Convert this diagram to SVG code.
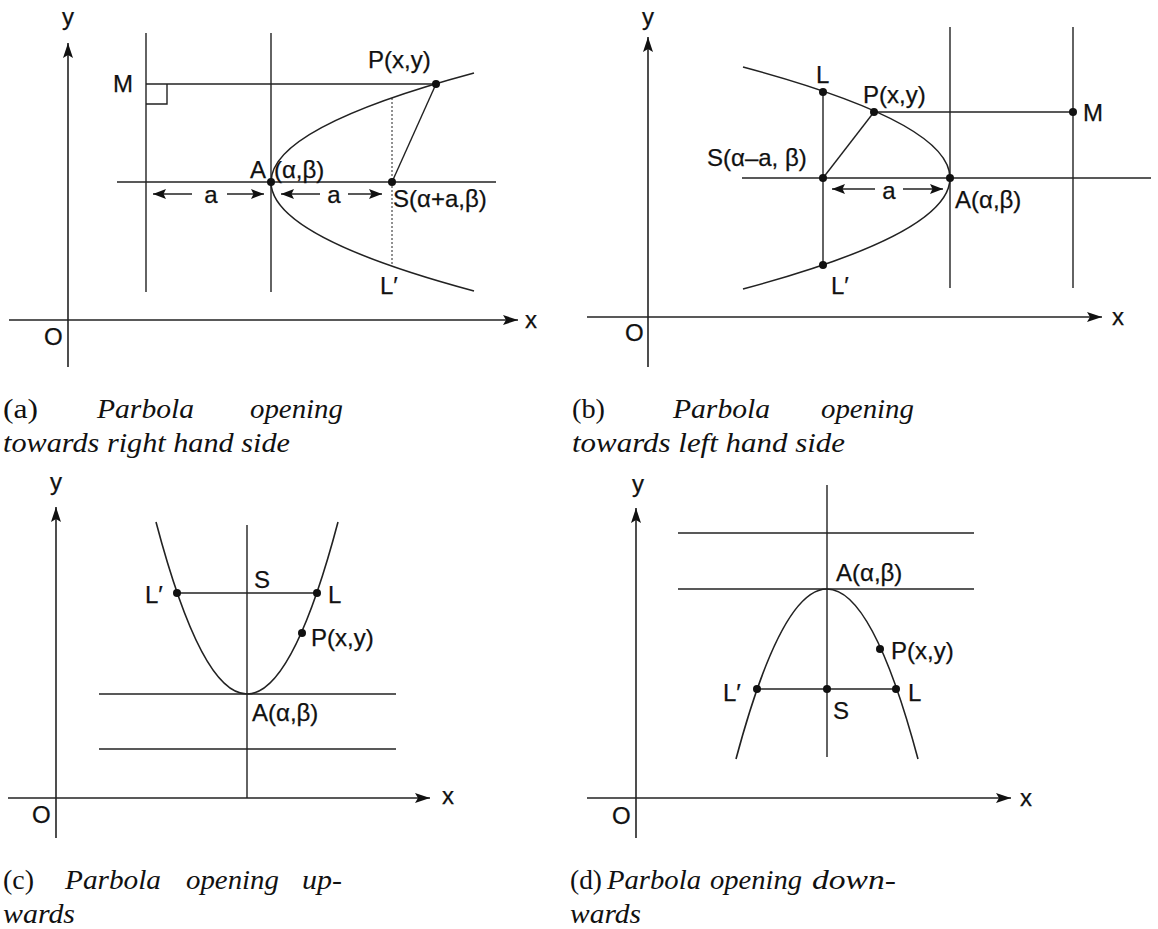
<svg xmlns="http://www.w3.org/2000/svg" width="1158" height="929" viewBox="0 0 1158 929">
<defs>
<style>
.ln{stroke:#222;stroke-width:1.4;fill:none}
.ax{stroke:#222;stroke-width:1.6;fill:none;marker-end:url(#ah)}
.cv{stroke:#222;stroke-width:1.6;fill:none}
.dm{stroke:#222;stroke-width:1.4;fill:none;marker-end:url(#dh)}
.dot{stroke:#222;stroke-width:1;fill:none;stroke-dasharray:2 2}
.pt{fill:#111}
.lb{font-family:"Liberation Sans",Arial,sans-serif;font-size:24px;fill:#111;stroke:#111;stroke-width:0.25}
.cap{font-family:"Liberation Serif","Times New Roman",serif;font-size:27px;font-style:italic;fill:#111}
.up{font-style:normal}
</style>
<marker id="ah" markerUnits="userSpaceOnUse" markerWidth="16" markerHeight="11" refX="15" refY="5" orient="auto"><path d="M0,0 L15,5 L0,10 L3,5 z" fill="#111"/></marker>
<marker id="dh" markerUnits="userSpaceOnUse" markerWidth="14" markerHeight="11" refX="13" refY="5" orient="auto"><path d="M0,0 L13,5 L0,10 L2.5,5 z" fill="#111"/></marker>
</defs>
<rect width="1158" height="929" fill="#fff"/>

<g id="panel-a">
<line class="ax" x1="68" y1="367" x2="68" y2="43"/>
<line class="ax" x1="9" y1="320" x2="518" y2="320"/>
<line class="ln" x1="146" y1="33" x2="146" y2="292"/>
<line class="ln" x1="271" y1="33" x2="271" y2="292"/>
<line class="ln" x1="146" y1="84" x2="436" y2="84"/>
<path class="ln" d="M146,104 H167 V84"/>
<line class="ln" x1="117" y1="182" x2="496" y2="182"/>
<path class="cv" d="M474,73 Q68,182 474,291"/>
<line class="dot" x1="392" y1="98" x2="392" y2="266"/>
<line class="ln" x1="436" y1="84" x2="392" y2="182"/>
<line class="dm" x1="192" y1="194" x2="153" y2="194"/>
<line class="dm" x1="227" y1="194" x2="264" y2="194"/>
<line class="dm" x1="320" y1="194" x2="281" y2="194"/>
<line class="dm" x1="348" y1="194" x2="382" y2="194"/>
<circle class="pt" cx="271" cy="182" r="4"/>
<circle class="pt" cx="392" cy="182" r="4"/>
<circle class="pt" cx="436" cy="84" r="4"/>
<text class="lb" x="62" y="25">y</text>
<text class="lb" x="525" y="328">x</text>
<text class="lb" x="44" y="345">O</text>
<text class="lb" x="113" y="92">M</text>
<text class="lb" x="368" y="68">P(x,y)</text>
<text class="lb" x="250" y="178">A</text>
<text class="lb" x="274" y="178">(α,β)</text>
<text class="lb" x="393" y="207">S(α+a,β)</text>
<text class="lb" x="380" y="294">L′</text>
<text class="lb" x="211" y="203" text-anchor="middle">a</text>
<text class="lb" x="334" y="203" text-anchor="middle">a</text>
</g>

<g id="panel-b">
<line class="ax" x1="648" y1="367" x2="648" y2="37"/>
<line class="ax" x1="587" y1="317" x2="1102" y2="317"/>
<line class="ln" x1="950" y1="27" x2="950" y2="288"/>
<line class="ln" x1="1073" y1="27" x2="1073" y2="288"/>
<line class="ln" x1="742" y1="178" x2="1151" y2="178"/>
<path class="cv" d="M743,67 Q1157,178 743,289"/>
<line class="ln" x1="874" y1="112" x2="1073" y2="112"/>
<line class="ln" x1="823" y1="92" x2="823" y2="265"/>
<line class="ln" x1="823" y1="178" x2="874" y2="112"/>
<line class="dm" x1="875" y1="189" x2="832" y2="189"/>
<line class="dm" x1="903" y1="189" x2="943" y2="189"/>
<circle class="pt" cx="823" cy="92" r="4"/>
<circle class="pt" cx="874" cy="112" r="4"/>
<circle class="pt" cx="1073" cy="112" r="4"/>
<circle class="pt" cx="823" cy="178" r="4"/>
<circle class="pt" cx="950" cy="178" r="4"/>
<circle class="pt" cx="823" cy="265" r="4"/>
<text class="lb" x="642" y="25">y</text>
<text class="lb" x="1112" y="325">x</text>
<text class="lb" x="625" y="341">O</text>
<text class="lb" x="816" y="83">L</text>
<text class="lb" x="863" y="103">P(x,y)</text>
<text class="lb" x="1083" y="121">M</text>
<text class="lb" x="707" y="166">S(α–a, β)</text>
<text class="lb" x="955" y="208">A(α,β)</text>
<text class="lb" x="831" y="294">L′</text>
<text class="lb" x="889" y="199" text-anchor="middle">a</text>
</g>

<g id="panel-c">
<line class="ax" x1="56" y1="838" x2="56" y2="507"/>
<line class="ax" x1="8" y1="798" x2="430" y2="798"/>
<line class="ln" x1="247" y1="525" x2="247" y2="798"/>
<line class="ln" x1="99" y1="694" x2="396" y2="694"/>
<line class="ln" x1="99" y1="749" x2="396" y2="749"/>
<path class="cv" d="M156,522 Q247,866 338,522"/>
<line class="ln" x1="177" y1="593" x2="317" y2="593"/>
<circle class="pt" cx="177" cy="593" r="4"/>
<circle class="pt" cx="317" cy="593" r="4"/>
<circle class="pt" cx="302" cy="633" r="4"/>
<text class="lb" x="50" y="490">y</text>
<text class="lb" x="442" y="804">x</text>
<text class="lb" x="32" y="823">O</text>
<text class="lb" x="254" y="588">S</text>
<text class="lb" x="145" y="603">L′</text>
<text class="lb" x="328" y="603">L</text>
<text class="lb" x="311" y="646">P(x,y)</text>
<text class="lb" x="252" y="721">A(α,β)</text>
</g>

<g id="panel-d">
<line class="ax" x1="636" y1="838" x2="636" y2="508"/>
<line class="ax" x1="587" y1="798" x2="1011" y2="798"/>
<line class="ln" x1="827" y1="485" x2="827" y2="757"/>
<line class="ln" x1="678" y1="533" x2="974" y2="533"/>
<line class="ln" x1="678" y1="589" x2="974" y2="589"/>
<path class="cv" d="M736,759 Q827,419 918,759"/>
<line class="ln" x1="757" y1="689" x2="896" y2="689"/>
<circle class="pt" cx="757" cy="689" r="4"/>
<circle class="pt" cx="827" cy="689" r="4"/>
<circle class="pt" cx="896" cy="689" r="4"/>
<circle class="pt" cx="880" cy="649" r="4"/>
<text class="lb" x="632" y="492">y</text>
<text class="lb" x="1020" y="806">x</text>
<text class="lb" x="612" y="824">O</text>
<text class="lb" x="836" y="581">A(α,β)</text>
<text class="lb" x="891" y="659">P(x,y)</text>
<text class="lb" x="723" y="701">L′</text>
<text class="lb" x="908" y="701">L</text>
<text class="lb" x="833" y="719">S</text>
</g>

<g id="captions">
<text class="cap up" x="3" y="418" textLength="35" lengthAdjust="spacingAndGlyphs">(a)</text>
<text class="cap" x="97" y="418" textLength="97" lengthAdjust="spacingAndGlyphs">Parbola</text>
<text class="cap" x="250" y="418" textLength="93" lengthAdjust="spacingAndGlyphs">opening</text>
<text class="cap" x="3" y="452" textLength="287" lengthAdjust="spacingAndGlyphs">towards right hand side</text>
<text class="cap up" x="572" y="418" textLength="33" lengthAdjust="spacingAndGlyphs">(b)</text>
<text class="cap" x="673" y="418" textLength="97" lengthAdjust="spacingAndGlyphs">Parbola</text>
<text class="cap" x="821" y="418" textLength="93" lengthAdjust="spacingAndGlyphs">opening</text>
<text class="cap" x="572" y="452" textLength="273" lengthAdjust="spacingAndGlyphs">towards left hand side</text>
<text class="cap up" x="3" y="889" textLength="31" lengthAdjust="spacingAndGlyphs">(c)</text>
<text class="cap" x="65" y="889" textLength="96" lengthAdjust="spacingAndGlyphs">Parbola</text>
<text class="cap" x="186" y="889" textLength="93" lengthAdjust="spacingAndGlyphs">opening</text>
<text class="cap" x="302" y="889" textLength="40" lengthAdjust="spacingAndGlyphs">up-</text>
<text class="cap" x="3" y="923" textLength="72" lengthAdjust="spacingAndGlyphs">wards</text>
<text class="cap up" x="570" y="889" textLength="32" lengthAdjust="spacingAndGlyphs">(d)</text>
<text class="cap" x="607" y="889" textLength="94" lengthAdjust="spacingAndGlyphs">Parbola</text>
<text class="cap" x="710" y="889" textLength="92" lengthAdjust="spacingAndGlyphs">opening</text>
<text class="cap" x="812" y="889" textLength="84" lengthAdjust="spacingAndGlyphs">down-</text>
<text class="cap" x="570" y="923" textLength="71" lengthAdjust="spacingAndGlyphs">wards</text>
</g>
</svg>
